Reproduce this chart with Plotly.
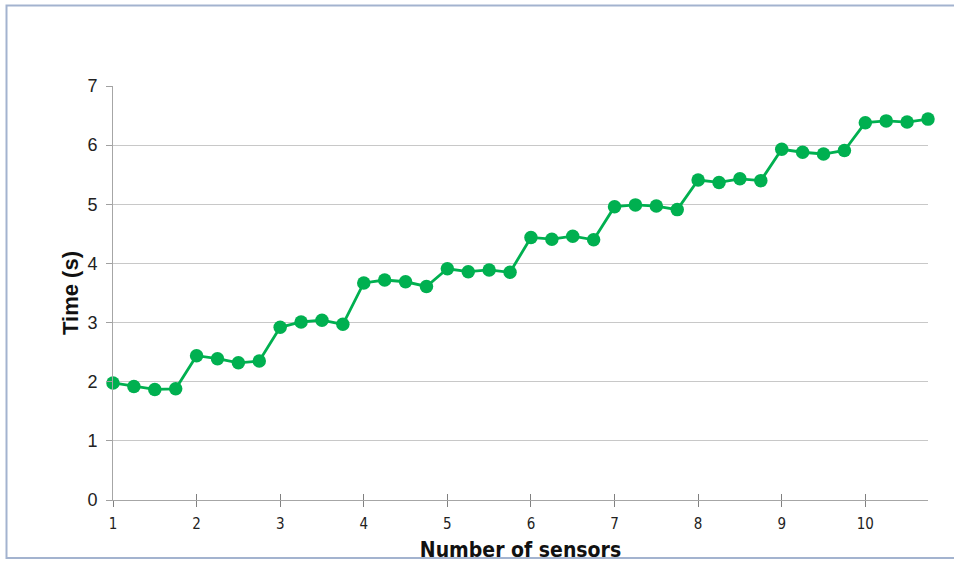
import plotly.graph_objects as go

# Data: number of sensors (quarter steps) vs time (s)
sensors = [1 + 0.25 * i for i in range(40)]
time_s = [1.98, 1.92, 1.87, 1.88,
          2.44, 2.39, 2.32, 2.35,
          2.92, 3.01, 3.04, 2.97,
          3.67, 3.72, 3.69, 3.61,
          3.91, 3.86, 3.89, 3.85,
          4.44, 4.41, 4.46, 4.40,
          4.96, 4.99, 4.97, 4.91,
          5.41, 5.37, 5.43, 5.40,
          5.93, 5.88, 5.85, 5.91,
          6.38, 6.41, 6.39, 6.44]
x_ticks = [1, 2, 3, 4, 5, 6, 7, 8, 9, 10]
y_ticks = [0, 1, 2, 3, 4, 5, 6, 7]

GREEN = "#00b050"
GRID = "#c8c8c8"
AXIS = "#a6a6a6"
NARROW = "Liberation Sans Narrow, DejaVu Sans Condensed, Arial Narrow, sans-serif"
SANS = "Liberation Sans, Arial, sans-serif"

fig = go.Figure()
fig.add_trace(go.Scatter(
    x=sensors, y=time_s, mode="lines+markers",
    line=dict(color=GREEN, width=2.8),
    marker=dict(color=GREEN, size=13.5),
    cliponaxis=False, showlegend=False,
))
# invisible trace to carry the overlay axis (inside ticks)
fig.add_trace(go.Scatter(x=[sensors[0]], y=[time_s[0]], xaxis="x2",
                         mode="markers", marker=dict(opacity=0),
                         showlegend=False, hoverinfo="skip"))

W, H = 954, 562
L, R, T, B = 113, 26, 86, 62
pw = W - L - R
ph = H - T - B

fig.update_layout(
    width=W, height=H,
    margin=dict(l=L, r=R, t=T, b=B),
    paper_bgcolor="white", plot_bgcolor="white",
    xaxis=dict(
        range=[1, 10.75], tickvals=x_ticks, ticktext=[str(v) for v in x_ticks],
        showgrid=False, zeroline=False, automargin=False,
        showline=True, linecolor=AXIS, linewidth=1,
        ticks="outside", ticklen=6, tickcolor="#808080", tickwidth=1,
        ticklabelstandoff=4,
        tickfont=dict(family=NARROW, size=15, color="#222"),
        title=dict(text="<b>Number of sensors</b>",
                   font=dict(family=NARROW, size=21, color="#111"),
                   standoff=10),
    ),
    xaxis2=dict(
        range=[1, 10.75], tickvals=x_ticks, overlaying="x", anchor="y",
        side="bottom", showticklabels=False, showgrid=False, zeroline=False,
        ticks="inside", ticklen=6, tickcolor="#808080", tickwidth=1,
        showline=False, automargin=False,
    ),
    yaxis=dict(
        range=[0, 7], tickvals=y_ticks, automargin=False,
        showgrid=True, gridcolor=GRID, gridwidth=1.2,
        zeroline=False,
        showline=True, linecolor=AXIS, linewidth=1,
        ticks="outside", ticklen=6, tickcolor="#a0a0a0",
        ticklabelstandoff=5,
        tickfont=dict(family=SANS, size=18, color="#222"),
        title=dict(text="<b>Time (s)</b>",
                   font=dict(family=SANS, size=22, color="#111"),
                   standoff=2),
    ),
    shapes=[dict(
        type="rect", xref="paper", yref="paper",
        x0=(6.5 - L) / pw, x1=(W + 20 - L) / pw,
        y0=(H - B - 558) / ph, y1=(H - B - 5.5) / ph,
        line=dict(color="#a3b3cf", width=2), fillcolor="rgba(0,0,0,0)",
        layer="below",
    )],
)

fig.write_html("out.html",
               config={"displayModeBar": False},
               post_script="document.body.style.margin='0';document.body.style.overflow='hidden';")
